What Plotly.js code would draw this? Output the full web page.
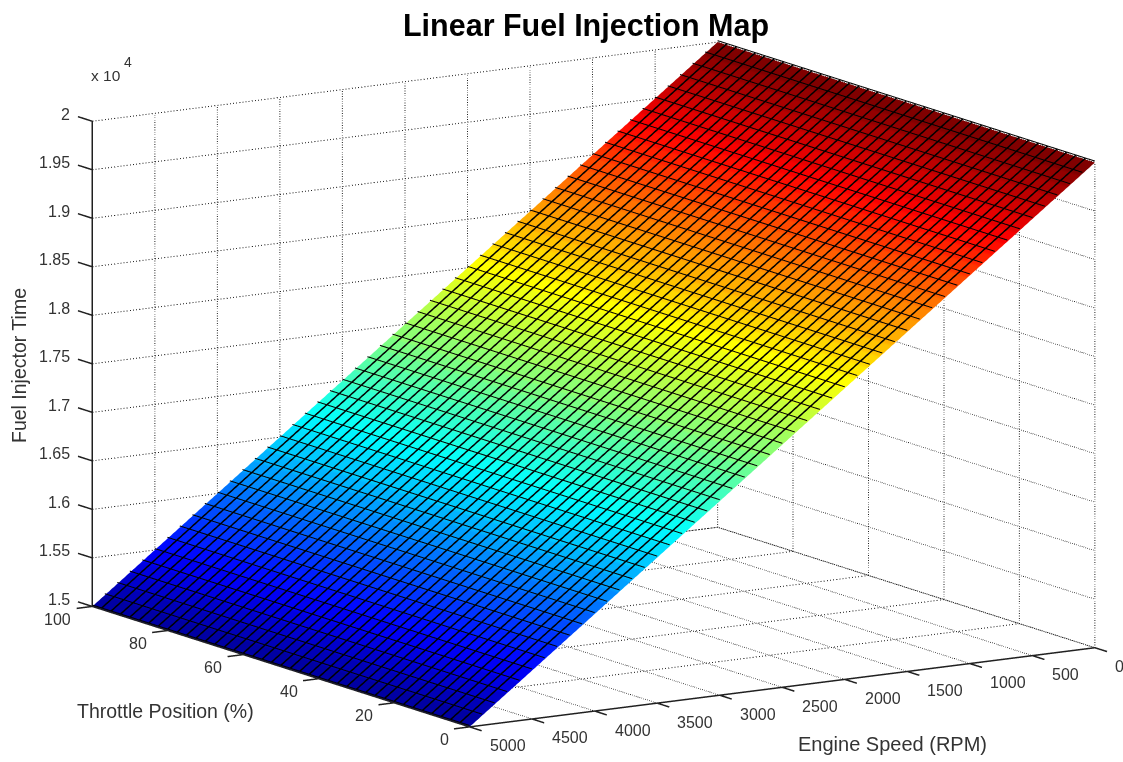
<!DOCTYPE html>
<html><head><meta charset="utf-8">
<script src="https://cdn.plot.ly/plotly-3.0.1.min.js"></script>
<style>html,body{margin:0;padding:0;background:#fff}#c{width:1123px;height:762px}</style>
</head><body><div id="c"></div>
<script>
const engineSpeed=[0,100,200,300,400,500,600,700,800,900,1000,1100,1200,1300,1400,1500,1600,1700,1800,1900,2000,2100,2200,2300,2400,2500,2600,2700,2800,2900,3000,3100,3200,3300,3400,3500,3600,3700,3800,3900,4000,4100,4200,4300,4400,4500,4600,4700,4800,4900,5000];
const throttle=[0,2.5,5,7.5,10,12.5,15,17.5,20,22.5,25,27.5,30,32.5,35,37.5,40,42.5,45,47.5,50,52.5,55,57.5,60,62.5,65,67.5,70,72.5,75,77.5,80,82.5,85,87.5,90,92.5,95,97.5,100];
const injectorTime=[20000,19900,19800,19700,19600,19500,19400,19300,19200,19100,19000,18900,18800,18700,18600,18500,18400,18300,18200,18100,18000,17900,17800,17700,17600,17500,17400,17300,17200,17100,17000,16900,16800,16700,16600,16500,16400,16300,16200,16100,16000,15900,15800,15700,15600,15500,15400,15300,15200,15100,15000];
const xTicks=[0,500,1000,1500,2000,2500,3000,3500,4000,4500,5000];
const yTicks=[0,20,40,60,80,100];
const zTicks=[15000,15500,16000,16500,17000,17500,18000,18500,19000,19500,20000];
const zTickText=['1.5','1.55','1.6','1.65','1.7','1.75','1.8','1.85','1.9','1.95','2'];
const jetStops=[[0,0,0,143],[0.111,0,0,255],[0.35,0,255,255],[0.62,255,255,0],[0.873,255,0,0],[1,128,0,0]];

function jetColor(t){
 for(let i=1;i<jetStops.length;i++){
  const a=jetStops[i-1],b=jetStops[i];
  if(t<=b[0]){const f=(t-a[0])/(b[0]-a[0]);return 'rgb('+[1,2,3].map(k=>Math.round(a[k]+f*(b[k]-a[k]))).join(',')+')';}
 }
 return 'rgb(128,0,0)';
}
const bands=injectorTime.length-1;
const stepped=[];
for(let k=0;k<bands;k++){const c=jetColor((k+1)/bands);stepped.push([k/bands,c]);stepped.push([(k+1)/bands,c]);}

const zMatrix=throttle.map(()=>injectorTime);
const surface={type:'surface',x:engineSpeed,y:throttle,z:zMatrix,colorscale:stepped,cmin:15000,cmax:20000,showscale:false,hoverinfo:'skip',
 lighting:{ambient:1,diffuse:0,specular:0,fresnel:0,roughness:1}};

// cell edges of the surface, lifted a hair above it so they win the depth test
const lift=15;
const rx=[],ry=[],rz=[];
engineSpeed.forEach((v,i)=>{rx.push(v,v,null);ry.push(0,100,null);rz.push(injectorTime[i]+lift,injectorTime[i]+lift,null);});
const cx=[],cy=[],cz=[];
throttle.slice(1,-1).forEach(v=>{cx.push(0,5000,null);cy.push(v,v,null);cz.push(injectorTime[0]+lift,injectorTime[injectorTime.length-1]+lift,null);});
const wireRows={type:'scatter3d',mode:'lines',x:rx,y:ry,z:rz,connectgaps:false,line:{color:'#000',width:2},hoverinfo:'skip',showlegend:false};
const wireCols={type:'scatter3d',mode:'lines',x:cx,y:cy,z:cz,connectgaps:false,line:{color:'#000',width:3},hoverinfo:'skip',showlegend:false};

function seg(xs,ys,zs,dash,color,w){return {type:'scatter3d',mode:'lines',x:xs,y:ys,z:zs,line:{color:color||'#222',width:w||2,dash:dash||'dot'},hoverinfo:'skip',showlegend:false};}
const traces=[surface,wireRows,wireCols];
const Zmin=15000,Zmax=20000,Xmax=5000,Ymax=100;
xTicks.forEach(v=>{traces.push(seg([v,v],[0,Ymax],[Zmin,Zmin]));traces.push(seg([v,v],[Ymax,Ymax],[Zmin,Zmax]));});
yTicks.forEach(v=>{traces.push(seg([0,Xmax],[v,v],[Zmin,Zmin]));traces.push(seg([0,0],[v,v],[Zmin,Zmax]));});
zTicks.forEach(v=>{traces.push(seg([Xmax,0],[Ymax,Ymax],[v,v]));traces.push(seg([0,0],[Ymax,0],[v,v]));});
const axc='#202020';
traces.push(seg([Xmax,Xmax],[Ymax,Ymax],[Zmin,Zmax],'solid',axc,3));
traces.push(seg([Xmax,0],[0,0],[Zmin,Zmin],'solid',axc,3));
traces.push(seg([Xmax,Xmax],[0,Ymax],[Zmin,Zmin],'solid',axc,3));
xTicks.forEach(v=>traces.push(seg([v,v],[0,-3.2],[Zmin,Zmin],'solid',axc,3)));
yTicks.forEach(v=>traces.push(seg([Xmax,Xmax+125],[v,v],[Zmin,Zmin],'solid',axc,3)));
zTicks.forEach(v=>traces.push(seg([Xmax,Xmax],[Ymax,Ymax+3.8],[v,v],'solid',axc,3)));

const phi=(180+57.8)*Math.PI/180,el=11.6*Math.PI/180,dist=2;
const cen={x:-0.052,y:0.0355,z:0.0116};
const ax={showgrid:false,zeroline:false,showline:false,showbackground:false,ticks:'',showticklabels:false,showspikes:false,title:{text:''}};
const ann=[];
const font={family:'Liberation Sans, Arial',size:16,color:'#333'};
xTicks.forEach(v=>ann.push({x:v,y:0,z:Zmin,text:String(v),showarrow:false,xanchor:'left',yanchor:'middle',xshift:18,yshift:-19,font}));
yTicks.forEach(v=>ann.push({x:Xmax,y:v,z:Zmin,text:String(v),showarrow:false,xanchor:'right',yanchor:'middle',xshift:-19,yshift:-13,font}));
zTicks.forEach((v,i)=>ann.push({x:Xmax,y:Ymax,z:v,text:zTickText[i],showarrow:false,xanchor:'right',yanchor:'middle',xshift:-20,yshift:7,font}));
const tf=s=>({family:'Liberation Sans, Arial',size:s,color:'#333'});
const pa=(x,y,text,size,extra)=>Object.assign({xref:'paper',yref:'paper',x:x/1123,y:1-y/762,text,showarrow:false,xanchor:'center',yanchor:'middle',font:tf(size)},extra||{});
const layout={width:1123,height:762,margin:{l:0,r:0,t:0,b:0},paper_bgcolor:'#fff',showlegend:false,
 title:{text:'<b>Linear Fuel Injection Map</b>',font:{family:'Liberation Sans, Arial',size:30.5,color:'#000'},x:586/1123,xanchor:'center',y:1-25/762,yanchor:'middle'},
 scene:{domain:{x:[0,1],y:[0,1]},aspectmode:'manual',aspectratio:{x:1.990,y:2.007,z:1.352},
  camera:{projection:{type:'orthographic'},up:{x:0,y:0,z:1},center:cen,eye:{x:cen.x+dist*Math.cos(phi)*Math.cos(el),y:cen.y+dist*Math.sin(phi)*Math.cos(el),z:cen.z+dist*Math.sin(el)}},
  xaxis:Object.assign({},ax,{range:[5130,0]}),yaxis:Object.assign({},ax,{range:[-4,104]}),zaxis:Object.assign({},ax,{range:[14900,20100]}),annotations:ann},
 annotations:[
  pa(19,366,'Fuel Injector Time',19.5,{textangle:-90}),
  pa(165.5,711,'Throttle Position (%)',19.5),
  pa(892,744,'Engine Speed (RPM)',20),
  pa(106,76,'x 10',15.5),
  pa(128,62,'4',14)
 ]};
Plotly.newPlot('c',traces,layout,{displayModeBar:false});
</script></body></html>
